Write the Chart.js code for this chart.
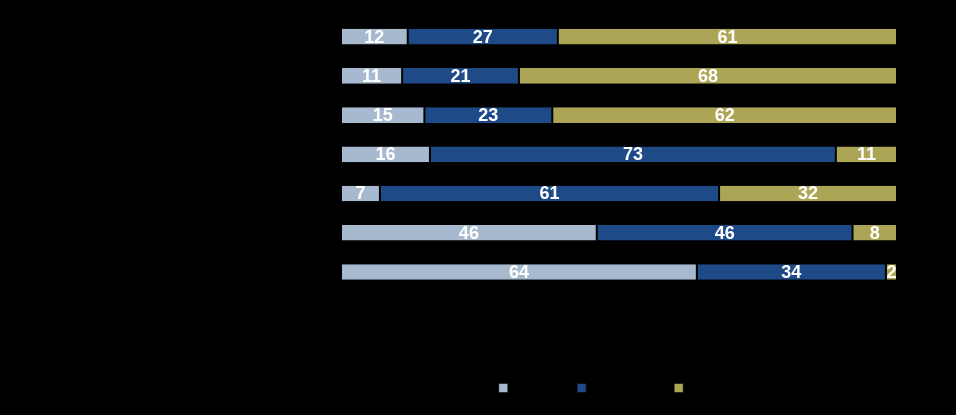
<!DOCTYPE html>
<html>
<head>
<meta charset="utf-8">
<script src="https://cdn.jsdelivr.net/npm/chart.js@4/dist/chart.umd.min.js"></script>
<style>
  html, body { margin: 0; padding: 0; background: #000; }
  #wrap { width: 956px; height: 415px; }
</style>
</head>
<body>
<div id="wrap"><canvas id="barChart"></canvas></div>
<script>
// categories (labels are drawn black on black in the original)
const categories = ['Item 1', 'Item 2', 'Item 3', 'Item 4', 'Item 5', 'Item 6', 'Item 7'];
const seriesNames = ['Quite little', 'Some degree', 'Very high'];

const lowValues  = [12, 11, 15, 16, 7, 46, 64];
const midValues  = [27, 21, 23, 73, 61, 46, 34];
const highValues = [61, 68, 62, 11, 32, 8, 2];

const colors = ['#A7B9CF', '#1F4A88', '#ADA556'];

// white numbers in the middle of every segment
const segmentLabels = {
    id: 'segmentLabels',
    afterDatasetsDraw(chart) {
        const ctx = chart.ctx;
        ctx.save();
        ctx.font = 'bold 18px "Liberation Sans", Arial, sans-serif';
        ctx.fillStyle = '#ffffff';
        ctx.textAlign = 'center';
        ctx.textBaseline = 'middle';
        chart.data.datasets.forEach((ds, i) => {
            chart.getDatasetMeta(i).data.forEach((bar, j) => {
                const p = bar.getCenterPoint();
                ctx.fillText(ds.data[j], p.x, p.y + 1);
            });
        });
        ctx.restore();
    }
};

const barChart = document.getElementById('barChart').getContext('2d');
new Chart(barChart, {
    type: 'bar',
    data: {
        labels: categories,
        datasets: [lowValues, midValues, highValues].map((vals, i) => ({
            label: seriesNames[i],
            data: vals,
            backgroundColor: colors[i],
            borderColor: '#000',
            borderWidth: { left: 1, right: 1, top: 0, bottom: 0 },
            borderSkipped: false,
            barPercentage: 0.4,
            categoryPercentage: 1
        }))
    },
    options: {
        indexAxis: 'y',
        responsive: true,
        maintainAspectRatio: false,
        animation: false,
        layout: { padding: { top: 17, right: 59, bottom: 11, left: 0 } },
        scales: {
            x: { stacked: true, min: 0, max: 100, display: false },
            y: {
                stacked: true,
                grid: { display: false },
                border: { display: false },
                ticks: { color: '#000', font: { size: 12 } },
                afterFit: (scale) => { scale.width = 341; }
            }
        },
        plugins: {
            legend: {
                position: 'bottom',
                fullSize: false,
                title: { display: true, text: '', padding: { top: 66, bottom: 0 } },
                labels: { boxWidth: 9, boxHeight: 9, color: '#000', font: { size: 12 } }
            },
            tooltip: { enabled: false }
        }
    },
    plugins: [segmentLabels]
});
</script>
</body>
</html>
